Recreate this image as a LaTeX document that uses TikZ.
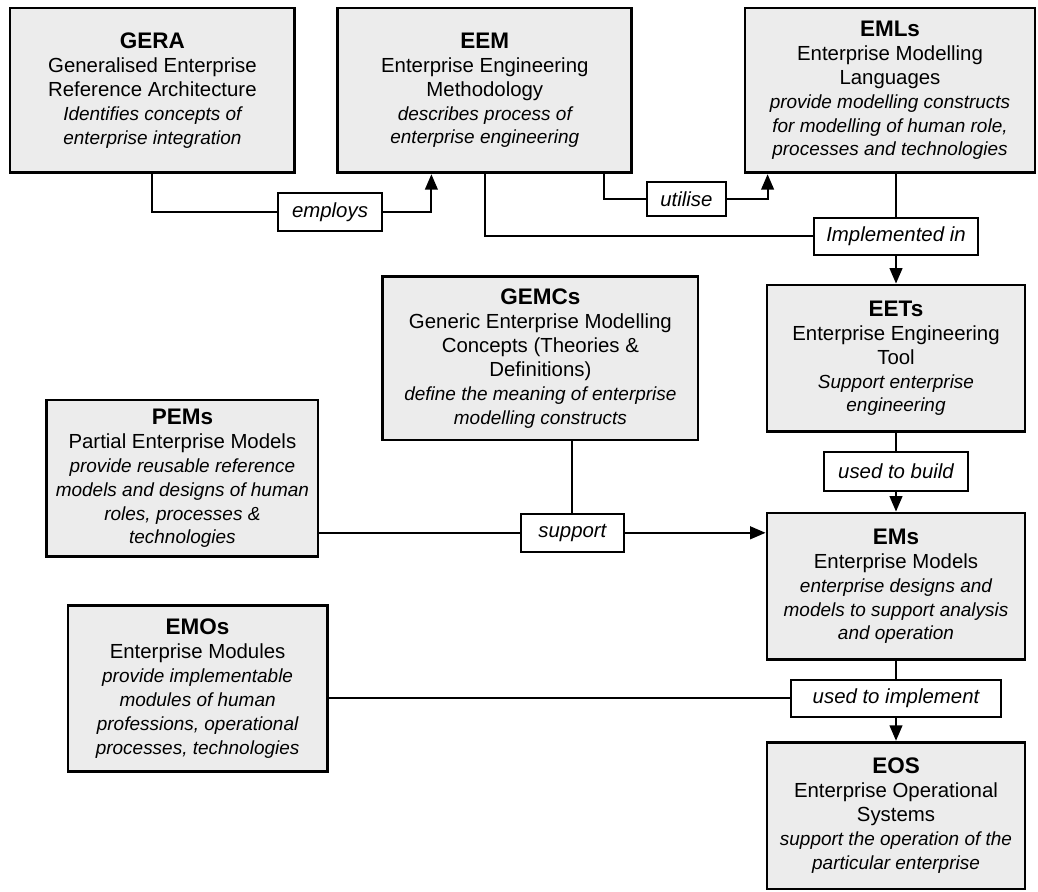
\documentclass[tikz,border=0pt]{standalone}
\usepackage{fontspec}
\setmainfont{Liberation Sans}
\usetikzlibrary{arrows.meta}
\newcommand{\descr}[1]{{\fontsize{13.5}{17}\selectfont\itshape #1}}
\newcommand{\boxtitle}[1]{{\fontsize{16}{17}\selectfont\bfseries #1}}

\begin{document}
\begin{tikzpicture}[>={Triangle[length=11pt,width=9pt]},
    box/.style={draw, line width=2pt, fill=gray!15, align=center, inner sep=2pt, font=\fontsize{14.5}{17}\selectfont},
    lab/.style={draw, line width=1.3pt, fill=white, font=\fontsize{14.5}{17}\selectfont\itshape, minimum height=0.95cm},
    link/.style={line width=1.5pt}]
  \useasboundingbox (0,0) rectangle (25.95,-22.275);
  % top row
  \node[box, minimum width=7.12cm, minimum height=4.12cm] (gera) at (3.81,-2.26) {\boxtitle{GERA}\\Generalised Enterprise\\Reference Architecture\\\descr{Identifies concepts of}\\\descr{enterprise integration}};
  \node[box, minimum width=7.35cm, minimum height=4.12cm] (eem) at (12.12,-2.26) {\boxtitle{EEM}\\Enterprise Engineering\\Methodology\\\descr{describes process of}\\\descr{enterprise engineering}};
  \node[box, minimum width=7.25cm, minimum height=4.12cm] (emls) at (22.25,-2.26) {\boxtitle{EMLs}\\Enterprise Modelling\\Languages\\\descr{provide modelling constructs}\\\descr{for modelling of human role,}\\\descr{processes and technologies}};
  \node[lab, minimum width=2.6cm] (employs) at (8.25,-5.3) {employs};
  \node[lab, minimum width=1.98cm, minimum height=0.85cm] (utilise) at (17.16,-4.98) {utilise};
  \node[lab, minimum width=4.08cm, minimum height=0.92cm] (impl) at (22.4,-5.91) {Implemented in};
  % middle
  \node[box, minimum width=6.45cm, minimum height=3.67cm] (eets) at (22.4,-8.96) {\boxtitle{EETs}\\Enterprise Engineering\\Tool\\\descr{Support enterprise}\\\descr{engineering}};
  \node[box, minimum width=7.88cm, minimum height=4.08cm] (gemcs) at (13.51,-8.96) {\boxtitle{GEMCs}\\Generic Enterprise Modelling\\Concepts (Theories \&\\Definitions)\\\descr{define the meaning of enterprise}\\\descr{modelling constructs}};
  \node[lab, minimum width=3.62cm, minimum height=0.97cm] (build) at (22.4,-11.79) {used to build};
  \node[box, minimum width=6.78cm, minimum height=3.92cm] (pems) at (4.56,-11.96) {\boxtitle{PEMs}\\Partial Enterprise Models\\\descr{provide reusable reference}\\\descr{models and designs of human}\\\descr{roles, processes \&}\\\descr{technologies}};
  \node[lab, minimum width=2.58cm] (support) at (14.31,-13.32) {support};
  \node[box, minimum width=6.45cm, minimum height=3.67cm] (ems) at (22.4,-14.66) {\boxtitle{EMs}\\Enterprise Models\\\descr{enterprise designs and}\\\descr{models to support analysis}\\\descr{and operation}};
  % bottom
  \node[box, minimum width=6.48cm, minimum height=4.15cm] (emos) at (4.94,-17.22) {\boxtitle{EMOs}\\Enterprise Modules\\\descr{provide implementable}\\\descr{modules of human}\\\descr{professions, operational}\\\descr{processes, technologies}};
  \node[lab, minimum width=5.25cm, minimum height=0.92cm] (implement) at (22.4,-17.46) {used to implement};
  \node[box, minimum width=6.45cm, minimum height=3.67cm] (eos) at (22.4,-20.39) {\boxtitle{EOS}\\Enterprise Operational\\Systems\\\descr{support the operation of the}\\\descr{particular enterprise}};
  % connectors
  \draw[link] (gera.south) |- (employs.west);
  \draw[link,->] (employs.east) -| ([xshift=2.375cm]eem.south west);
  \draw[link] ([xshift=-0.725cm]eem.south east) |- (utilise.west);
  \draw[link,->] (utilise.east) -| ([xshift=0.6cm]emls.south west);
  \draw[link] (eem.south) |- (impl.west);
  \draw[link] (emls.south -| impl.north) -- (impl.north);
  \draw[link,->] (impl.south) -- (eets.north);
  \draw[link] (eets.south) -- (build.north);
  \draw[link,->] (build.south) -- (ems.north);
  \draw[link] (gemcs.south -| support.north) -- (support.north);
  \draw[link] (pems.east |- support.west) -- (support.west);
  \draw[link,->] (support.east) -- (support.east -| ems.west);
  \draw[link] (ems.south) -- (implement.north);
  \draw[link] (emos.east |- implement.west) -- (implement.west);
  \draw[link,->] (implement.south) -- (eos.north);
\end{tikzpicture}
\end{document}
